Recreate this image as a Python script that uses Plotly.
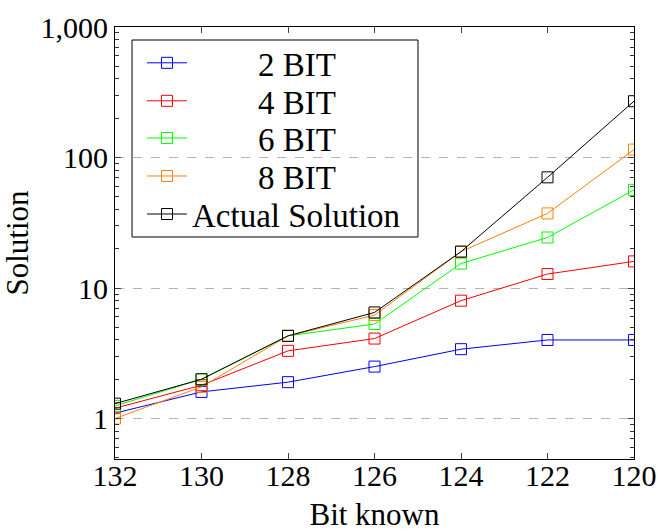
import plotly.graph_objects as go

bits_known = [132, 130, 128, 126, 124, 122, 120]

bit2 = [1.1, 1.6, 1.9, 2.5, 3.4, 4.0, 4.0]
bit4 = [1.2, 1.8, 3.3, 4.1, 8.0, 12.8, 16.0]
bit6 = [1.25, 2.0, 4.3, 5.3, 15.4, 24.4, 56.5]
bit8 = [1.0, 1.75, 4.3, 6.2, 19.0, 37.3, 115.0]
actual = [1.3, 2.0, 4.3, 6.5, 19.0, 70.5, 270.0]

series = [
    ("2 BIT", bit2, "#0000ff"),
    ("4 BIT", bit4, "#ff0000"),
    ("6 BIT", bit6, "#00ff00"),
    ("8 BIT", bit8, "#ff8000"),
    ("Actual Solution", actual, "#000000"),
]

FONT = "Liberation Serif"
NB = "\u00a0"

# one single-entry legend per series, stacked inside a framed box
legend_ids = ["legend", "legend2", "legend3", "legend4", "legend5"]
legend_y = [0.917, 0.829, 0.743, 0.655, 0.567]
legend_x = 0.052

fig = go.Figure()
for (name, vals, color), lid in zip(series, legend_ids):
    label = name if name.startswith("Actual") else NB * 8 + name
    fig.add_trace(go.Scatter(
        x=bits_known, y=vals, name=label, mode="lines+markers",
        legend=lid,
        line=dict(color=color, width=1),
        marker=dict(symbol="square-open", size=11, color=color,
                    line=dict(width=1, color=color)),
    ))

legend_layout = {}
for lid, ly in zip(legend_ids, legend_y):
    legend_layout[lid] = dict(
        x=legend_x, y=ly, xanchor="left", yanchor="middle",
        bgcolor="rgba(0,0,0,0)", borderwidth=0,
        font=dict(family=FONT, size=33),
        itemwidth=40,
    )

fig.update_layout(
    width=658, height=532,
    margin=dict(l=115, r=24, t=27, b=73),
    plot_bgcolor="white", paper_bgcolor="white",
    font=dict(family=FONT, size=30, color="black"),
    showlegend=True,
    **legend_layout,
    shapes=[dict(
        type="rect", xref="paper", yref="paper",
        x0=0.0328, x1=0.5838, y0=0.5139, y1=0.9699,
        line=dict(color="black", width=1), fillcolor="white",
        layer="between",
    )],
    xaxis=dict(
        title=dict(text="Bit known", standoff=17, font=dict(size=31)),
        range=[132, 120], tickvals=bits_known,
        ticks="inside", ticklen=6, mirror="allticks",
        ticklabelstandoff=-10,
        showline=True, linecolor="black", linewidth=1,
        showgrid=False, zeroline=False, automargin=False,
    ),
    yaxis=dict(
        title=dict(text="Solution", standoff=5, font=dict(size=31)),
        type="log", range=[-0.31, 3],
        tickvals=[1, 10, 100, 1000], ticktext=["1", "10", "100", "1,000"],
        ticks="inside", ticklen=6, mirror="allticks",
        showline=True, linecolor="black", linewidth=1,
        showgrid=True, gridcolor="#b3b3b3", griddash="dash", gridwidth=1,
        zeroline=False, automargin=False,
        minor=dict(ticks="inside", ticklen=4, tickcolor="#333",
                   tickvals=[v * m for m in (0.1, 1, 10, 100) for v in range(2, 10)],
                   showgrid=False),
    ),
)

fig.write_html("out.html")
